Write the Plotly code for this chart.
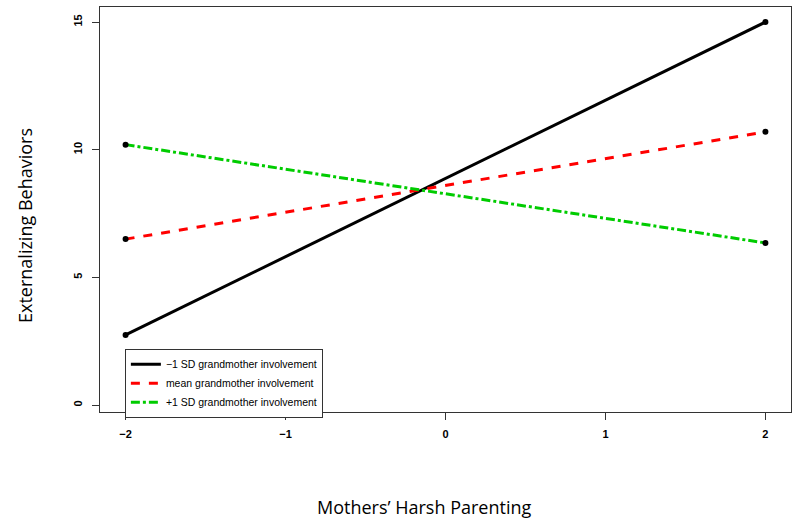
import plotly.graph_objects as go

# 数据 - 从图中读取
harsh_parenting = [-2, 2]
low_involvement = [2.75, 15.0]    # -1 SD
mean_involvement = [6.5, 10.7]    # mean
high_involvement = [10.2, 6.35]   # +1 SD

series_names = [
    "\u22121 SD grandmother involvement",
    "mean grandmother involvement",
    "+1 SD grandmother involvement",
]
x_ticks = [-2, -1, 0, 1, 2]
y_ticks = [0, 5, 10, 15]

fig = go.Figure()

styles = [
    ("black", "solid"),
    ("#ff0000", "dash"),
    ("#00cc00", "dashdot"),
]
for name, ys, (color, dash) in zip(series_names,
                                   [low_involvement, mean_involvement, high_involvement],
                                   styles):
    fig.add_trace(go.Scatter(
        x=harsh_parenting, y=ys, mode="lines", name=name,
        line=dict(color=color, width=3, dash=dash),
    ))

# 端点黑点
for ys in [low_involvement, mean_involvement, high_involvement]:
    fig.add_trace(go.Scatter(
        x=harsh_parenting, y=ys, mode="markers", showlegend=False,
        marker=dict(color="black", size=6),
    ))

tick_font = dict(family="Liberation Sans, Arial", size=11, color="black", weight="bold")
axis_common = dict(
    showgrid=False, zeroline=False, showline=True, mirror=True,
    linecolor="#333333", linewidth=1, ticks="outside", ticklen=7,
    tickcolor="#333333", tickfont=tick_font, automargin=False,
)

fig.update_xaxes(range=[-2.16, 2.16], tickvals=x_ticks, ticklabelstandoff=5, **axis_common)
fig.update_yaxes(range=[-0.27, 15.59], tickvals=y_ticks, tickangle=-90,
                 ticklabelstandoff=6, **axis_common)

fig.update_layout(
    width=800, height=526,
    margin=dict(l=100, r=9, t=7, b=114),
    plot_bgcolor="white", paper_bgcolor="white",
    showlegend=True,
    legend=dict(
        x=0.036, y=0.156, xanchor="left", yanchor="top",
        bordercolor="#333333", borderwidth=1, bgcolor="white",
        font=dict(family="Liberation Sans, Arial", size=10.5, color="black"),
        tracegroupgap=0, itemwidth=30,
    ),
    annotations=[
        dict(text="Externalizing Behaviors", x=25, y=226, xref="paper", yref="paper",
             xanchor="center", yanchor="middle",
             showarrow=False, textangle=-90,
             font=dict(family="Open Sans", size=18, color="black")),
        dict(text="Mothers\u2019 Harsh Parenting", x=424, y=507, xref="paper", yref="paper",
             xanchor="center", yanchor="middle",
             showarrow=False,
             font=dict(family="Open Sans", size=18, color="black")),
    ],
)

# 注释位置用像素换算为 paper 坐标
for ann in fig.layout.annotations:
    ann.x = (ann.x - 100) / 691
    ann.y = (412 - ann.y) / 405

# 去掉页面默认 body 边距
fig.write_html("out.html", config={"displayModeBar": False},
               post_script="document.body.style.margin='0';")
